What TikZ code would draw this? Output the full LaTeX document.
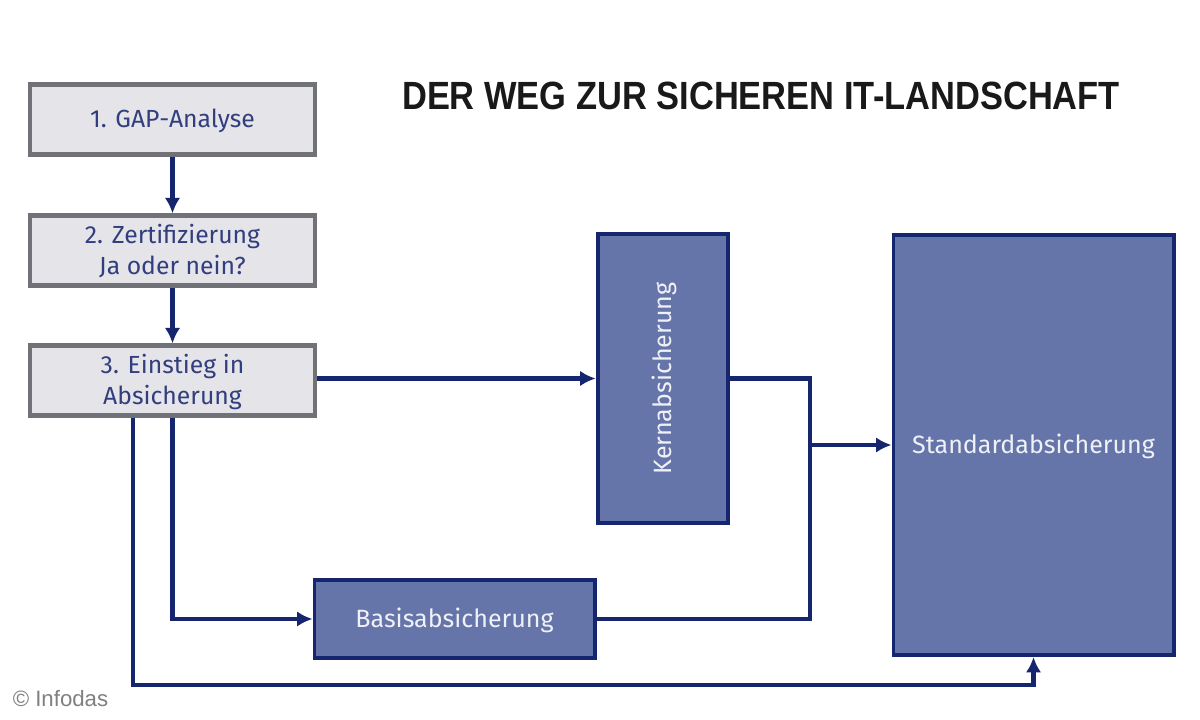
\documentclass[tikz,border=0pt]{standalone}
\usepackage{fontspec}
\setmainfont{Fira Sans}
\newfontfamily\copyfont{Liberation Sans}
\newfontfamily\titlefont[FakeStretch=0.875]{Liberation Sans}
\usetikzlibrary{arrows.meta}
\definecolor{navy}{RGB}{22,38,110}
\definecolor{boxblue}{RGB}{101,117,170}
\definecolor{boxgray}{RGB}{229,229,233}
\definecolor{rimgray}{RGB}{112,114,120}
\definecolor{textblue}{RGB}{50,62,125}
\tikzset{
  stepbox/.style={draw=rimgray, line width=3pt, fill=boxgray, text=textblue, align=center,
    minimum width=7.12cm, minimum height=1.75cm, inner sep=0pt, text depth=2pt, font=\fontsize{17.6}{22}\selectfont},
  bluebox/.style={draw=navy, line width=2.8pt, fill=boxblue, text=white!90!boxblue, inner sep=0pt,
    text depth=2pt, font=\fontsize{17.8}{22}\selectfont},
  link/.style={draw=navy, line width=3pt},
  linkto/.style={link, -{Latex[length=11pt,width=11pt]}}
}
\begin{document}
\begin{tikzpicture}[x=0.025cm,y=-0.025cm]
    \useasboundingbox[fill=white] (0,0) rectangle (1200,720);
    \node at (761,96) [font=\fontsize{28}{30}\selectfont\titlefont\bfseries, text=black!90] (title) {DER WEG ZUR SICHEREN IT-LANDSCHAFT};
    % linke Spalte
    \node at (172.5,119.5) [stepbox] (gap) {1. GAP-Analyse};
    \node at (172.5,250.5) [stepbox] (zert) {2. Zertifizierung\\Ja oder nein?};
    \node at (172.5,380.5) [stepbox] (einstieg) {3. Einstieg in\\Absicherung};
    % blaue Kästen
    \node at (663,378.5) [bluebox, rotate=90, minimum width=7.2cm, minimum height=3.27cm] (kern) {Kernabsicherung};
    \node at (454.5,619) [bluebox, minimum width=7cm, minimum height=1.93cm] (basis) {Basisabsicherung};
    \node at (1033.5,445) [bluebox, minimum width=7cm, minimum height=10.5cm] (standard) {Standardabsicherung};
    \node at (60.5,699) [font=\fontsize{15.8}{16}\selectfont\copyfont, text=black!50] (copy) {© Infodas};
    % Verbindungen
    \coordinate (knick) at (810,445);
    \coordinate (unten) at (133,685);
    \draw[linkto] (gap) -- (zert);
    \draw[linkto] (zert) -- (einstieg);
    \draw[linkto] (einstieg.east |- kern) -- (kern);
    \draw[link] (kern) -- (kern -| knick) -- (basis -| knick) -- (basis);
    \draw[linkto] (knick) -- (standard.west |- knick);
    \draw[linkto] (einstieg) -- (basis -| einstieg) -- (basis);
    \draw[linkto] (einstieg.south -| unten) -- (unten) -- (standard |- unten) -- (standard);
\end{tikzpicture}
\end{document}
